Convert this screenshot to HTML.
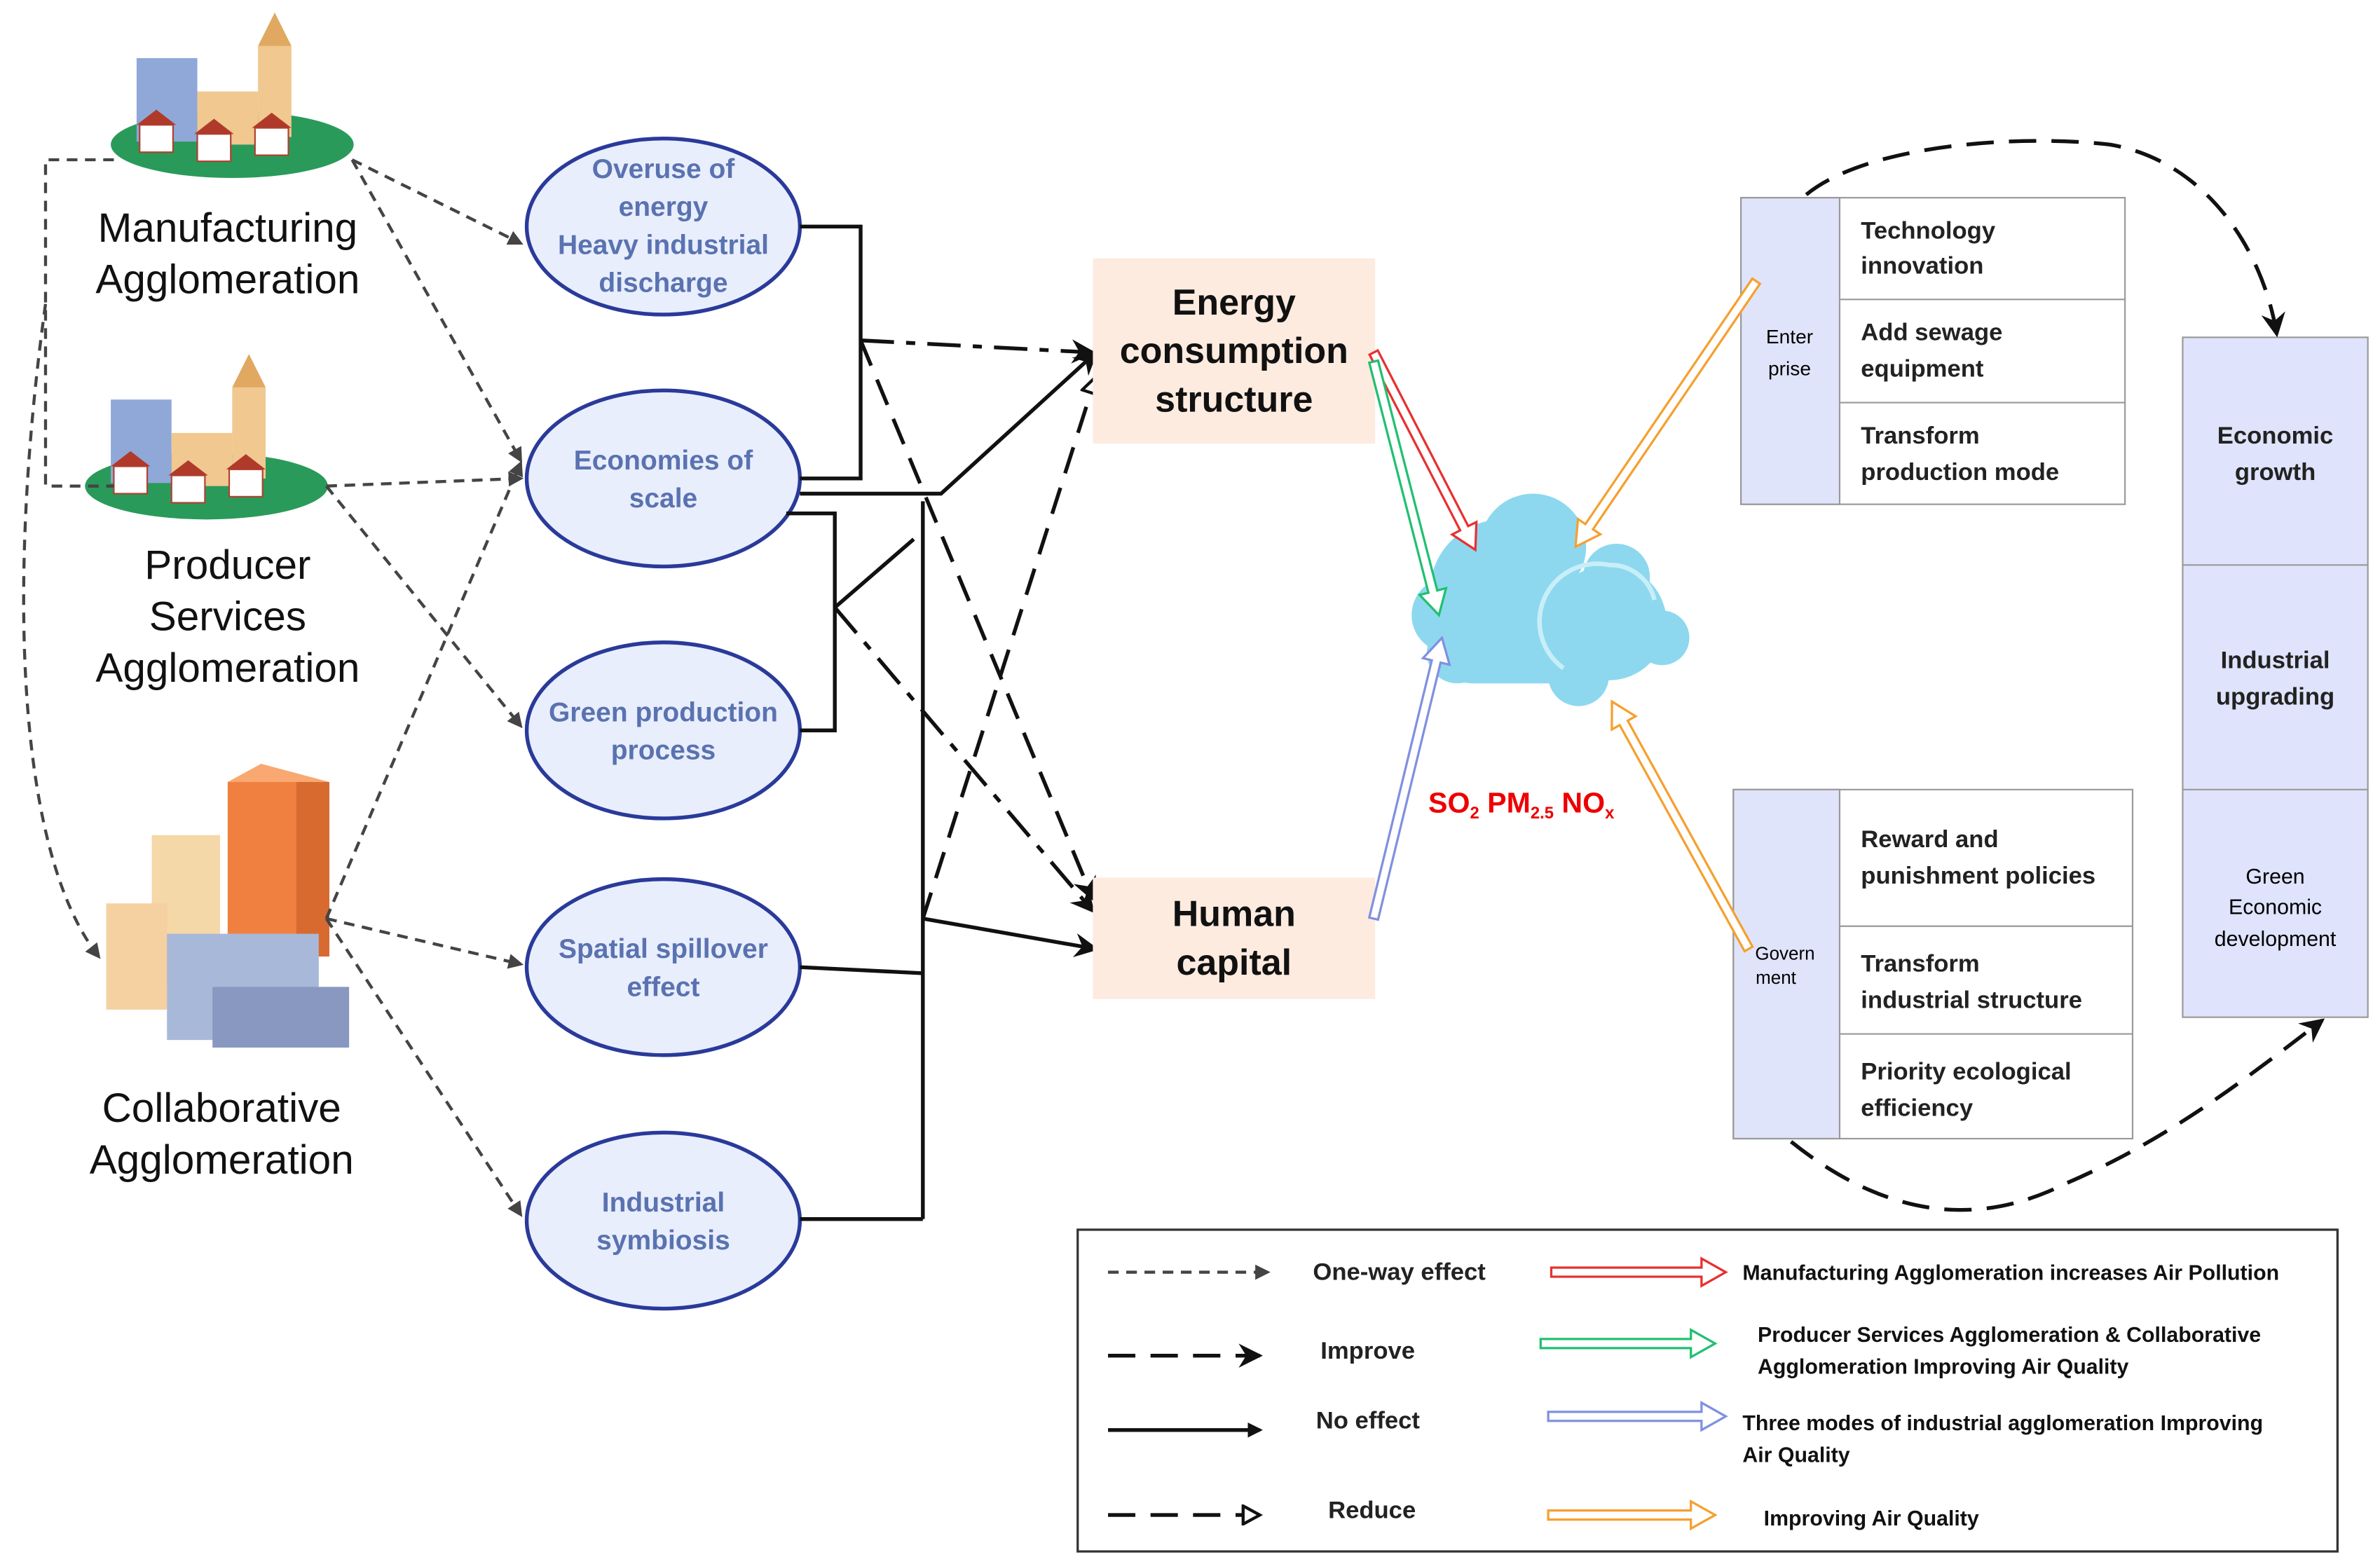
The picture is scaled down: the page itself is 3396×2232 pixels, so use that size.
<!DOCTYPE html>
<html><head><meta charset="utf-8"><style>
html,body{margin:0;padding:0;background:#fff}
svg{display:block}
text{font-family:"Liberation Sans",sans-serif}
.el{fill:#e8eefc;stroke:#2a3a9a;stroke-width:2.5}
.et{fill:#5a72b0;font-weight:bold;font-size:18px;text-anchor:middle}
.bt{fill:#111;font-weight:bold;font-size:24px;text-anchor:middle}
.tt{fill:#222;font-weight:bold;font-size:16px}
.lt{fill:#111;font-size:27px;text-anchor:middle}
.sl{fill:none;stroke:#111;stroke-width:2.5}
.dl{fill:none;stroke:#444;stroke-width:2;stroke-dasharray:7 5}
.ld{fill:none;stroke:#111;stroke-width:2.5;stroke-dasharray:18 10}
.dd{fill:none;stroke:#111;stroke-width:2.5;stroke-dasharray:22 8 6 8}
</style></head><body>
<svg id="s" width="3396" height="2232" viewBox="0 0 1568 1030" xmlns="http://www.w3.org/2000/svg">
<defs>
<marker id="af" markerWidth="10" markerHeight="10" refX="8" refY="5" orient="auto" markerUnits="userSpaceOnUse"><path d="M0,0 L10,5 L0,10 z" fill="#111"/></marker>
<marker id="ag" markerWidth="10" markerHeight="10" refX="8" refY="5" orient="auto" markerUnits="userSpaceOnUse"><path d="M0,0 L10,5 L0,10 z" fill="#444"/></marker>
<marker id="ao" markerWidth="14" markerHeight="14" refX="12" refY="7" orient="auto" markerUnits="userSpaceOnUse"><path d="M1,1 L12,7 L1,13 z" fill="#fff" stroke="#111" stroke-width="2"/></marker>
<marker id="as" markerWidth="16" markerHeight="16" refX="14" refY="8" orient="auto" markerUnits="userSpaceOnUse"><path d="M0,0 L16,8 L0,16 L5,8 z" fill="#111"/></marker>
</defs>

<g>
<ellipse cx="153" cy="95" rx="80" ry="22" fill="#2a9a5a"/>
<rect x="90" y="38" width="40" height="55" fill="#8fa8d8"/>
<rect x="130" y="60" width="40" height="35" fill="#f0c890"/>
<rect x="170" y="30" width="22" height="60" fill="#f0c890"/><path d="M170,30 L181,8 L192,30z" fill="#e0a860"/>
<rect x="92" y="82" width="22" height="18" fill="#fff" stroke="#b04030"/><rect x="130" y="88" width="22" height="18" fill="#fff" stroke="#b04030"/><rect x="168" y="84" width="22" height="18" fill="#fff" stroke="#b04030"/>
<path d="M90,82 L103,72 L116,82z M128,88 L141,78 L154,88z M166,84 L179,74 L192,84z" fill="#b03a2a"/>
</g>
<g transform="translate(-17,225)">
<ellipse cx="153" cy="95" rx="80" ry="22" fill="#2a9a5a"/>
<rect x="90" y="38" width="40" height="55" fill="#8fa8d8"/>
<rect x="130" y="60" width="40" height="35" fill="#f0c890"/>
<rect x="170" y="30" width="22" height="60" fill="#f0c890"/><path d="M170,30 L181,8 L192,30z" fill="#e0a860"/>
<rect x="92" y="82" width="22" height="18" fill="#fff" stroke="#b04030"/><rect x="130" y="88" width="22" height="18" fill="#fff" stroke="#b04030"/><rect x="168" y="84" width="22" height="18" fill="#fff" stroke="#b04030"/>
<path d="M90,82 L103,72 L116,82z M128,88 L141,78 L154,88z M166,84 L179,74 L192,84z" fill="#b03a2a"/>
</g>
<g>
<rect x="150" y="515" width="45" height="120" fill="#f08040"/><path d="M150,515 L172,503 L217,515 L195,515z" fill="#f8a870"/><rect x="195" y="515" width="22" height="115" fill="#d86a30"/>
<rect x="100" y="550" width="45" height="100" fill="#f5d8a8"/>
<rect x="70" y="595" width="40" height="70" fill="#f5d0a0"/>
<rect x="110" y="615" width="100" height="70" fill="#a8b8d8"/><rect x="140" y="650" width="90" height="40" fill="#8898c0"/>
</g>
<text class="lt" x="150" y="159">Manufacturing</text><text class="lt" x="150" y="193">Agglomeration</text>
<text class="lt" x="150" y="381">Producer</text><text class="lt" x="150" y="415">Services</text><text class="lt" x="150" y="449">Agglomeration</text>
<text class="lt" x="146" y="739">Collaborative</text><text class="lt" x="146" y="773">Agglomeration</text>

<path class="dl" d="M75,105 L30,105 L30,320 L75,320"/>
<path class="dl" d="M30,200 C5,380 10,560 65,630" marker-end="url(#ag)"/>
<path class="dl" d="M232,105 L343,160" marker-end="url(#ag)"/>
<path class="dl" d="M232,105 L343,303" marker-end="url(#ag)"/>
<path class="dl" d="M215,320 L343,315" marker-end="url(#ag)"/>
<path class="dl" d="M215,320 L343,478" marker-end="url(#ag)"/>
<path class="dl" d="M215,605 L343,635" marker-end="url(#ag)"/>
<path class="dl" d="M215,605 L343,305" marker-end="url(#ag)"/>
<path class="dl" d="M215,605 L343,800" marker-end="url(#ag)"/>

<ellipse class="el" cx="437" cy="149" rx="90" ry="58"/>
<text class="et" x="437" y="117">Overuse of</text><text class="et" x="437" y="142">energy</text><text class="et" x="437" y="167">Heavy industrial</text><text class="et" x="437" y="192">discharge</text>
<ellipse class="el" cx="437" cy="315" rx="90" ry="58"/>
<text class="et" x="437" y="309">Economies of</text><text class="et" x="437" y="334">scale</text>
<ellipse class="el" cx="437" cy="481" rx="90" ry="58"/>
<text class="et" x="437" y="475">Green production</text><text class="et" x="437" y="500">process</text>
<ellipse class="el" cx="437" cy="637" rx="90" ry="58"/>
<text class="et" x="437" y="631">Spatial spillover</text><text class="et" x="437" y="656">effect</text>
<ellipse class="el" cx="437" cy="804" rx="90" ry="58"/>
<text class="et" x="437" y="798">Industrial</text><text class="et" x="437" y="823">symbiosis</text>

<path class="sl" d="M527,149 L567,149 L567,315 L527,315"/>
<path class="sl" d="M527,325 L620,325 L722,232" marker-end="url(#as)"/>
<path class="sl" d="M518,338 L550,338 L550,481 L527,481"/>
<path class="sl" d="M550,400 L602,355"/>
<path class="sl" d="M608,330 L608,803"/>
<path class="sl" d="M527,637 L608,641 M527,803 L608,803"/>
<path class="sl" d="M608,605 L722,625" marker-end="url(#as)"/>
<path class="dd" d="M567,224 L720,232" marker-end="url(#as)"/>
<path class="ld" d="M567,224 L720,592" marker-end="url(#as)"/>
<path class="ld" d="M608,605 L722,248" marker-end="url(#ao)"/>
<path class="dd" d="M550,400 L720,600" marker-end="url(#as)"/>

<rect x="720" y="170" width="186" height="122" fill="#fdebe0"/>
<text class="bt" x="813" y="207">Energy</text><text class="bt" x="813" y="239">consumption</text><text class="bt" x="813" y="271">structure</text>
<rect x="720" y="578" width="186" height="80" fill="#fdebe0"/>
<text class="bt" x="813" y="610">Human</text><text class="bt" x="813" y="642">capital</text>

<g fill="#8dd8ef">
<circle cx="990" cy="390" r="48"/><circle cx="955" cy="405" r="25"/><circle cx="1010" cy="360" r="35"/><circle cx="960" cy="430" r="20"/>
<rect x="945" y="395" width="110" height="55" rx="25"/>
<circle cx="1060" cy="410" r="38"/><circle cx="1065" cy="380" r="22"/><circle cx="1095" cy="420" r="18"/><circle cx="1040" cy="445" r="20"/>
</g>
<path d="M1030,440 A38,38 0 0,1 1060,372 A30,30 0 0,1 1090,395" fill="none" stroke="#c8eef8" stroke-width="3"/>
<text x="941" y="535" fill="#e00" font-weight="bold" font-size="19">SO<tspan font-size="11" dy="4">2</tspan><tspan dy="-4"> PM</tspan><tspan font-size="11" dy="4">2.5</tspan><tspan dy="-4"> NO</tspan><tspan font-size="11" dy="4">x</tspan></text>

<rect x="1147" y="130" width="253" height="202" fill="#fff" stroke="#999"/>
<rect x="1147" y="130" width="65" height="202" fill="#e0e4fa" stroke="#999"/>
<path d="M1212,197 L1400,197 M1212,265 L1400,265" stroke="#999"/>
<text x="1179" y="226" font-size="13" text-anchor="middle">Enter</text><text x="1179" y="247" font-size="13" text-anchor="middle">prise</text>
<text class="tt" x="1226" y="157">Technology</text><text class="tt" x="1226" y="180">innovation</text>
<text class="tt" x="1226" y="224">Add sewage</text><text class="tt" x="1226" y="248">equipment</text>
<text class="tt" x="1226" y="292">Transform</text><text class="tt" x="1226" y="316">production mode</text>

<rect x="1142" y="520" width="263" height="230" fill="#fff" stroke="#999"/>
<rect x="1142" y="520" width="70" height="230" fill="#e0e4fa" stroke="#999"/>
<path d="M1212,610 L1405,610 M1212,681 L1405,681" stroke="#999"/>
<text x="1176" y="632" font-size="12" text-anchor="middle">Govern</text><text x="1170" y="648" font-size="12" text-anchor="middle">ment</text>
<text class="tt" x="1226" y="558">Reward and</text><text class="tt" x="1226" y="582">punishment policies</text>
<text class="tt" x="1226" y="640">Transform</text><text class="tt" x="1226" y="664">industrial structure</text>
<text class="tt" x="1226" y="711">Priority ecological</text><text class="tt" x="1226" y="735">efficiency</text>

<rect x="1438" y="222" width="122" height="448" fill="#dfe3fb" stroke="#999"/>
<path d="M1438,372 L1560,372 M1438,520 L1560,520" stroke="#999"/>
<text class="tt" x="1499" y="292" text-anchor="middle">Economic</text><text class="tt" x="1499" y="316" text-anchor="middle">growth</text>
<text class="tt" x="1499" y="440" text-anchor="middle">Industrial</text><text class="tt" x="1499" y="464" text-anchor="middle">upgrading</text>
<text x="1499" y="582" font-size="14" text-anchor="middle">Green</text><text x="1499" y="602" font-size="14" text-anchor="middle">Economic</text><text x="1499" y="623" font-size="14" text-anchor="middle">development</text>

<path class="ld" d="M1190,128 C1230,95 1330,88 1390,95 C1450,105 1490,160 1500,220" marker-end="url(#as)"/>
<path class="ld" d="M1180,752 C1240,800 1300,810 1360,780 C1430,750 1480,710 1530,672" marker-end="url(#as)"/>

<rect x="710" y="810" width="830" height="212" fill="#fff" stroke="#333" stroke-width="1.5"/>
<path class="dl" d="M730,838 L835,838" marker-end="url(#ag)"/>
<path class="ld" d="M730,893 L830,893" marker-end="url(#as)"/>
<path class="sl" d="M730,942 L830,942" marker-end="url(#af)"/>
<path class="ld" d="M730,998 L830,998" marker-end="url(#ao)"/>
<text class="tt" x="865" y="843">One-way effect</text>
<text class="tt" x="870" y="895">Improve</text>
<text class="tt" x="867" y="941">No effect</text>
<text class="tt" x="875" y="1000">Reduce</text>
<g font-size="14" fill="#111" font-weight="bold">
<text x="1148" y="843">Manufacturing Agglomeration increases Air Pollution</text>
<text x="1158" y="884">Producer  Services  Agglomeration  &amp;  Collaborative</text>
<text x="1158" y="905">Agglomeration Improving Air Quality</text>
<text x="1148" y="942">Three modes of industrial agglomeration  Improving</text>
<text x="1148" y="963">Air Quality</text>
<text x="1162" y="1005">Improving Air Quality</text>
</g>
<g id="harrows"></g>
</svg>
<script>
var g=document.getElementById('harrows');
function ha(x1,y1,x2,y2,c){
 var dx=x2-x1,dy=y2-y1,L=Math.hypot(dx,dy),ux=dx/L,uy=dy/L,nx=-uy,ny=ux;
 var w=3,hw=9,hl=16;
 var bx=x2-ux*hl,by=y2-uy*hl;
 var p=[[x1+nx*w,y1+ny*w],[bx+nx*w,by+ny*w],[bx+nx*hw,by+ny*hw],[x2,y2],[bx-nx*hw,by-ny*hw],[bx-nx*w,by-ny*w],[x1-nx*w,y1-ny*w]];
 var e=document.createElementNS('http://www.w3.org/2000/svg','polygon');
 e.setAttribute('points',p.map(function(a){return a[0].toFixed(1)+','+a[1].toFixed(1)}).join(' '));
 e.setAttribute('fill','#fff');e.setAttribute('stroke',c);e.setAttribute('stroke-width','1.5');
 g.appendChild(e);
}
ha(905,232,972,362,'#e83030');
ha(905,238,948,405,'#20c070');
ha(905,605,950,420,'#8090e0');
ha(1157,185,1038,360,'#f5a030');
ha(1152,625,1062,462,'#f5a030');
ha(1022,838,1137,838,'#e83030');
ha(1015,885,1130,885,'#20c070');
ha(1020,933,1137,933,'#8090e0');
ha(1020,998,1130,998,'#f5a030');
</script>
</body></html>
